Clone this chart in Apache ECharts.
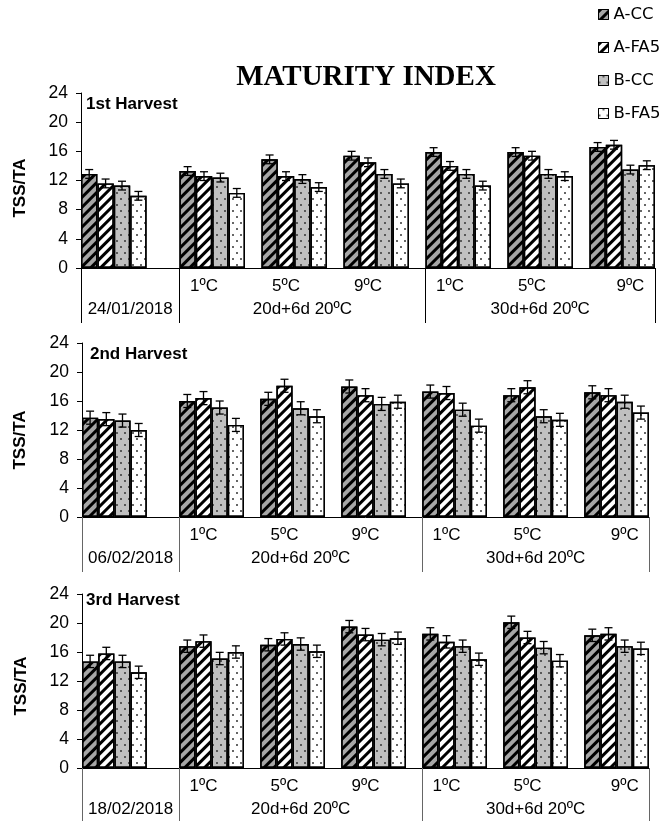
<!DOCTYPE html>
<html><head><meta charset="utf-8">
<script src="https://cdn.jsdelivr.net/npm/echarts@6/dist/echarts.min.js"></script>
<style>html,body{margin:0;padding:0;background:#fff}#c{width:670px;height:821px}</style>
</head><body><div id="c"></div>
<script>
// ---------- DATA ----------
const chartTitle = 'MATURITY INDEX';
const yAxisName = 'TSS/TA';
const yTicks = [0, 4, 8, 12, 16, 20, 24];
const seriesNames = ['A-CC', 'A-FA5', 'B-CC', 'B-FA5'];
const harvestNames = ['1st Harvest', '2nd Harvest', '3rd Harvest'];
const dateLabels = ['24/01/2018', '06/02/2018', '18/02/2018'];
const tempLabels = ['1ºC', '5ºC', '9ºC', '1ºC', '5ºC', '9ºC'];
const storageLabels = ['20d+6d 20ºC', '30d+6d 20ºC'];

// values per cluster: [harvest date, 20d 1º, 20d 5º, 20d 9º, 30d 1º, 30d 5º, 30d 9º]
const h1_ACC  = [12.9, 13.3, 14.9, 15.4, 15.9, 15.9, 16.6];
const h1_AFA5 = [11.6, 12.6, 12.6, 14.5, 14.0, 15.4, 16.9];
const h1_BCC  = [11.3, 12.4, 12.2, 12.9, 12.9, 12.9, 13.5];
const h1_BFA5 = [9.9, 10.3, 11.1, 11.6, 11.3, 12.6, 14.1];

const h2_ACC  = [13.7, 16.0, 16.3, 18.0, 17.3, 16.8, 17.2];
const h2_AFA5 = [13.5, 16.4, 18.1, 16.8, 17.1, 17.9, 16.8];
const h2_BCC  = [13.3, 15.1, 15.0, 15.6, 14.8, 13.9, 15.9];
const h2_BFA5 = [12.0, 12.7, 13.9, 15.9, 12.6, 13.4, 14.4];

const h3_ACC  = [14.7, 16.8, 17.0, 19.5, 18.5, 20.1, 18.3];
const h3_AFA5 = [15.8, 17.5, 17.8, 18.4, 17.4, 18.0, 18.5];
const h3_BCC  = [14.7, 15.1, 17.1, 17.7, 16.8, 16.6, 16.8];
const h3_BFA5 = [13.2, 16.0, 16.1, 17.9, 15.0, 14.8, 16.5];

// standard errors (approximate, read from whiskers)
const h1_err = [0.6, 0.6, 0.6, 0.6, 0.6, 0.6, 0.6];
const h2_err = [0.9, 0.9, 0.9, 0.9, 0.9, 0.9, 0.9];
const h3_err = [0.85, 0.85, 0.85, 0.85, 0.85, 0.85, 0.85];

// ---------- LAYOUT / STYLE ----------
const panels = [
  { vals: [h1_ACC, h1_AFA5, h1_BCC, h1_BFA5], err: h1_err, sepColor: '#000',
    grid: { left: 81, top: 93, width: 574, height: 175 }, hpos: { left: 86, top: 96 }, namePos: [20, 188] },
  { vals: [h2_ACC, h2_AFA5, h2_BCC, h2_BFA5], err: h2_err, sepColor: '#666',
    grid: { left: 82, top: 343, width: 567, height: 174 }, hpos: { left: 90, top: 346 }, namePos: [20, 440] },
  { vals: [h3_ACC, h3_AFA5, h3_BCC, h3_BFA5], err: h3_err, sepColor: '#666',
    grid: { left: 82, top: 594, width: 567, height: 174 }, hpos: { left: 86, top: 592 }, namePos: [21, 686] }
];
const NSLOT = 35;
const clusterStart = [0, 6, 11, 16, 21, 26, 31];
const tempPos = [7.5, 12.5, 17.5, 22.5, 27.5, 33.5];
const groupPos = [3, 13.5, 28];
const sepPos = [0, 6, 21, 35];
const slots = Array.from({ length: NSLOT }, (_, i) => String(i));

const sansFont = 'Liberation Sans, Arial, sans-serif';
const fills = ['#a6a6a6', '#ffffff', '#c0c0c0', '#ffffff'];
const stripe = (c) => ({ symbol: 'rect', symbolSize: 1, color: c, dashArrayX: [1, 0], dashArrayY: [3, 4], rotation: -Math.PI / 4 });
const dots = (c) => ({ symbol: 'rect', symbolSize: 0.8, color: c, dashArrayX: [[2, 6], [0, 4, 2, 2]], dashArrayY: [2, 4] });
const decals = [stripe('#000'), stripe('#000'), dots('#111'), dots('#000')];

const grid = [], xAxis = [], yAxis = [], series = [], graphics = [];
const titles = [{
  text: chartTitle, left: 366, top: 63, textAlign: 'center', padding: 0,
  textStyle: { fontFamily: 'Liberation Serif, Times New Roman, serif', fontWeight: 'bold', fontSize: 29, color: '#000' }
}];

panels.forEach((p, pi) => {
  grid.push(Object.assign({ containLabel: false }, p.grid));
  const tempMap = {}; tempPos.forEach((v, i) => tempMap[v] = tempLabels[i]);
  const groupText = [dateLabels[pi]].concat(storageLabels);
  const groupMap = {}; groupPos.forEach((v, i) => groupMap[v] = groupText[i]);
  xAxis.push({
    type: 'category', gridIndex: pi, data: slots, boundaryGap: true,
    axisLine: { lineStyle: { color: '#000', width: 1 } }, axisTick: { show: false }, axisLabel: { show: false }
  });
  xAxis.push({
    type: 'value', gridIndex: pi, min: 0, max: NSLOT, position: 'bottom', offset: 0,
    axisLine: { show: false }, splitLine: { show: false },
    axisTick: { show: true, customValues: sepPos, length: 55, lineStyle: { color: p.sepColor, width: 1 } },
    axisLabel: { customValues: tempPos, formatter: v => tempMap[v] || '', margin: 10, fontSize: 17, color: '#000', fontFamily: sansFont }
  });
  xAxis.push({
    type: 'value', gridIndex: pi, min: 0, max: NSLOT, position: 'bottom', offset: 0,
    axisLine: { show: false }, splitLine: { show: false }, axisTick: { show: false },
    axisLabel: { customValues: groupPos, formatter: v => groupMap[v] || '', margin: 33, fontSize: 17, color: '#000', fontFamily: sansFont }
  });
  yAxis.push({
    type: 'value', gridIndex: pi, min: yTicks[0], max: yTicks[yTicks.length - 1], interval: 4,
    axisLine: { show: true, lineStyle: { color: '#000' } },
    axisTick: { show: true, length: 5, lineStyle: { color: '#000' } },
    splitLine: { show: false },
    axisLabel: { fontSize: 17.5, color: '#000', margin: 13, fontFamily: sansFont }
  });
  graphics.push({
    type: 'text', x: p.namePos[0], y: p.namePos[1], rotation: Math.PI / 2, silent: true,
    style: { text: yAxisName, fontFamily: sansFont, fontWeight: 'bold', fontSize: 17, fill: '#000',
      textAlign: 'center', textVerticalAlign: 'middle' }
  });
  titles.push({ text: harvestNames[pi], left: p.hpos.left, top: p.hpos.top, padding: 0,
    textStyle: { fontFamily: sansFont, fontWeight: 'bold', fontSize: 17, color: '#000' } });

  p.vals.forEach((vals, si) => {
    const d = new Array(NSLOT).fill(null);
    vals.forEach((v, ci) => { d[clusterStart[ci] + si] = v; });
    series.push({
      type: 'bar', name: seriesNames[si], xAxisIndex: pi * 3, yAxisIndex: pi, data: d,
      barWidth: '100%', barGap: '-100%', barCategoryGap: 0,
      itemStyle: { color: fills[si], borderColor: '#000', borderWidth: 1.4, decal: decals[si] },
      emphasis: { disabled: true }, silent: true
    });
  });
  const errData = [];
  p.vals.forEach((vals, si) => {
    vals.forEach((v, ci) => { errData.push([clusterStart[ci] + si, v - p.err[ci], v + p.err[ci]]); });
  });
  series.push({
    type: 'custom', xAxisIndex: pi * 3, yAxisIndex: pi, data: errData, z: 5, silent: true,
    encode: { x: 0, y: [1, 2] },
    renderItem: (params, api) => {
      const x = api.value(0);
      const lo = api.coord([x, api.value(1)]);
      const hi = api.coord([x, api.value(2)]);
      const w = 4, st = { stroke: '#000', lineWidth: 1.3 };
      return { type: 'group', children: [
        { type: 'line', shape: { x1: lo[0], y1: lo[1], x2: hi[0], y2: hi[1] }, style: st },
        { type: 'line', shape: { x1: lo[0] - w, y1: lo[1], x2: lo[0] + w, y2: lo[1] }, style: st },
        { type: 'line', shape: { x1: hi[0] - w, y1: hi[1], x2: hi[0] + w, y2: hi[1] }, style: st }
      ] };
    }
  });
});

const chart = echarts.init(document.getElementById('c'), null, { renderer: 'canvas' });
chart.setOption({
  animation: false,
  backgroundColor: '#fff',
  title: titles,
  legend: {
    data: seriesNames, orient: 'vertical', left: 598, top: 6, padding: 0, icon: 'rect',
    itemWidth: 10, itemHeight: 10, itemGap: 16,
    textStyle: { fontFamily: 'DejaVu Sans, sans-serif', fontSize: 16.5, color: '#000' },
    itemStyle: { borderColor: '#000', borderWidth: 1 }
  },
  graphic: graphics,
  grid, xAxis, yAxis, series
});
</script></body></html>
